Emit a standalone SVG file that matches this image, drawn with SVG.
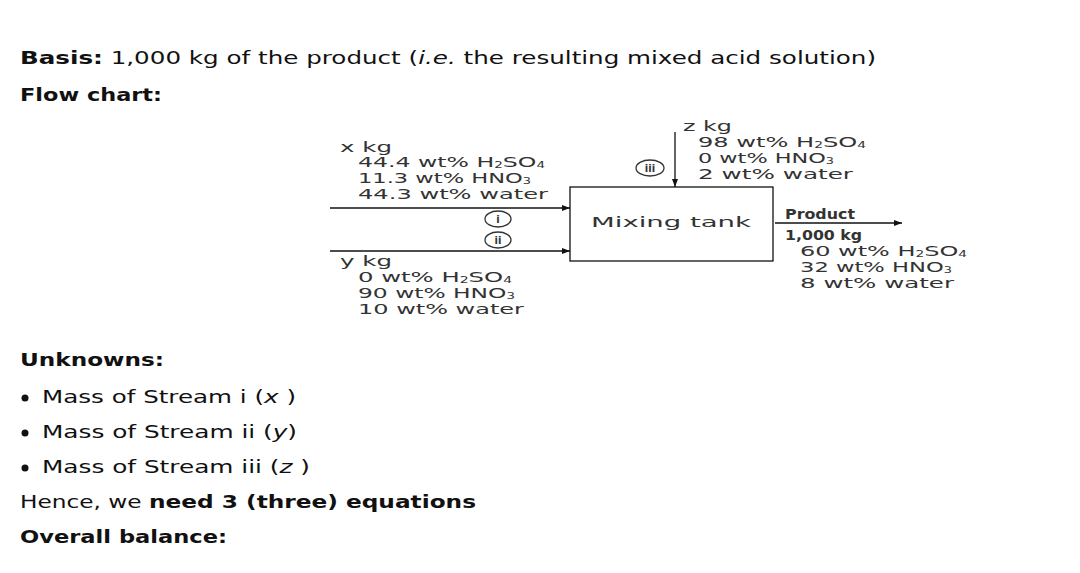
<svg xmlns="http://www.w3.org/2000/svg" width="1080" height="573" viewBox="0 0 1080 573">
<style>
.t{font-family:"DejaVu Sans",Verdana,sans-serif;font-size:17.5px;fill:#111}
.b{font-weight:bold}
.d{font-family:"DejaVu Sans",sans-serif;font-size:14px;fill:#333}
.ln{stroke:#111;stroke-width:1.3;fill:none}
.c{stroke:#333;stroke-width:1.3;fill:#fff}
.ci{font-family:"DejaVu Sans",sans-serif;font-size:10px;font-weight:bold;fill:#333;text-anchor:middle}
.s{font-size:8px}
</style>
<defs>
<marker id="ah" markerWidth="8" markerHeight="6" refX="8" refY="3" orient="auto" markerUnits="userSpaceOnUse">
<path d="M0,0 L8,3 L0,6 Z" fill="#111"/>
</marker>
</defs>
<rect width="1080" height="573" fill="#fff"/>
<text class="t" x="20" y="64" textLength="856" lengthAdjust="spacingAndGlyphs"><tspan class="b">Basis:</tspan> 1,000 kg of the product (<tspan font-style="italic">i.e.</tspan> the resulting mixed acid solution)</text>
<text class="t b" x="20" y="101" textLength="142" lengthAdjust="spacingAndGlyphs">Flow chart:</text>

<g id="connectors">
<line class="ln" x1="330" y1="208" x2="570" y2="208" marker-end="url(#ah)"/>
<line class="ln" x1="330" y1="251" x2="570" y2="251" marker-end="url(#ah)"/>
<line class="ln" x1="675" y1="132" x2="675" y2="187" marker-end="url(#ah)"/>
<line class="ln" x1="775" y1="223" x2="902" y2="223" marker-end="url(#ah)"/>
</g>

<g id="tank">
<rect class="ln" x="570" y="187" width="203" height="74"/>
<text class="d" x="591" y="227" font-size="17" textLength="160" lengthAdjust="spacingAndGlyphs">Mixing tank</text>
</g>

<g id="stream-i">
<text class="d" x="340" y="152" textLength="52" lengthAdjust="spacingAndGlyphs">x kg</text>
<text class="d" x="358" y="167" textLength="187" lengthAdjust="spacingAndGlyphs">44.4 wt% H<tspan class="s" dy="1">2</tspan><tspan dy="-1">SO</tspan><tspan class="s" dy="1">4</tspan></text>
<text class="d" x="358" y="183" textLength="173" lengthAdjust="spacingAndGlyphs">11.3 wt% HNO<tspan class="s" dy="1">3</tspan></text>
<text class="d" x="358" y="199" textLength="190" lengthAdjust="spacingAndGlyphs">44.3 wt% water</text>
<ellipse class="c" cx="498" cy="219" rx="13" ry="8"/>
<text class="ci" x="498" y="223">i</text>
</g>

<g id="stream-ii">
<ellipse class="c" cx="498" cy="240" rx="13" ry="8"/>
<text class="ci" x="498" y="244">ii</text>
<text class="d" x="340" y="266" textLength="52" lengthAdjust="spacingAndGlyphs">y kg</text>
<text class="d" x="358" y="282" textLength="154" lengthAdjust="spacingAndGlyphs">0 wt% H<tspan class="s" dy="1">2</tspan><tspan dy="-1">SO</tspan><tspan class="s" dy="1">4</tspan></text>
<text class="d" x="358" y="298" textLength="157" lengthAdjust="spacingAndGlyphs">90 wt% HNO<tspan class="s" dy="1">3</tspan></text>
<text class="d" x="358" y="314" textLength="166" lengthAdjust="spacingAndGlyphs">10 wt% water</text>
</g>

<g id="stream-iii">
<ellipse class="c" cx="650" cy="168" rx="14" ry="8"/>
<text class="ci" x="650" y="172">iii</text>
<text class="d" x="683" y="131" textLength="49" lengthAdjust="spacingAndGlyphs">z kg</text>
<text class="d" x="698" y="147" textLength="168" lengthAdjust="spacingAndGlyphs">98 wt% H<tspan class="s" dy="1">2</tspan><tspan dy="-1">SO</tspan><tspan class="s" dy="1">4</tspan></text>
<text class="d" x="698" y="163" textLength="136" lengthAdjust="spacingAndGlyphs">0 wt% HNO<tspan class="s" dy="1">3</tspan></text>
<text class="d" x="698" y="179" textLength="155" lengthAdjust="spacingAndGlyphs">2 wt% water</text>
</g>

<g id="product">
<text class="d b" x="785" y="219" textLength="70" lengthAdjust="spacingAndGlyphs">Product</text>
<text class="d b" x="785" y="240" textLength="77" lengthAdjust="spacingAndGlyphs">1,000 kg</text>
<text class="d" x="800" y="256" textLength="167" lengthAdjust="spacingAndGlyphs">60 wt% H<tspan class="s" dy="1">2</tspan><tspan dy="-1">SO</tspan><tspan class="s" dy="1">4</tspan></text>
<text class="d" x="800" y="272" textLength="152" lengthAdjust="spacingAndGlyphs">32 wt% HNO<tspan class="s" dy="1">3</tspan></text>
<text class="d" x="800" y="288" textLength="154" lengthAdjust="spacingAndGlyphs">8 wt% water</text>
</g>

<text class="t b" x="20" y="366" textLength="144" lengthAdjust="spacingAndGlyphs">Unknowns:</text>
<circle cx="25" cy="398" r="3.5" fill="#111"/>
<text class="t" x="42" y="403" textLength="254" lengthAdjust="spacingAndGlyphs">Mass of Stream i (<tspan font-style="italic">x</tspan> )</text>
<circle cx="25" cy="433" r="3.5" fill="#111"/>
<text class="t" x="42" y="438" textLength="255" lengthAdjust="spacingAndGlyphs">Mass of Stream ii (<tspan font-style="italic">y</tspan>)</text>
<circle cx="25" cy="468" r="3.5" fill="#111"/>
<text class="t" x="42" y="473" textLength="268" lengthAdjust="spacingAndGlyphs">Mass of Stream iii (<tspan font-style="italic">z</tspan> )</text>
<text class="t" x="20" y="508" textLength="456" lengthAdjust="spacingAndGlyphs">Hence, we <tspan class="b">need 3 (three) equations</tspan></text>
<text class="t b" x="20" y="543" textLength="207" lengthAdjust="spacingAndGlyphs">Overall balance:</text>
</svg>
